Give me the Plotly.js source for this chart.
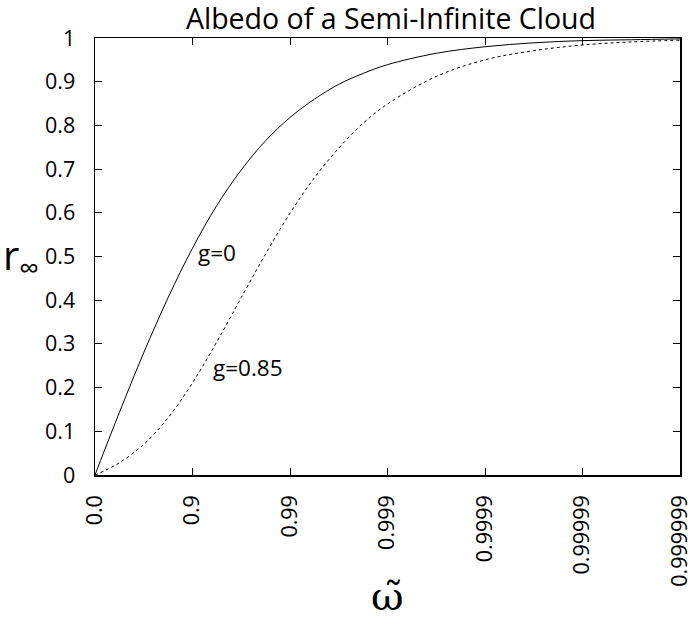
<!DOCTYPE html>
<html><head><meta charset="utf-8">
<script src="https://cdn.plot.ly/plotly-3.0.1.min.js"></script>
<style>html,body{margin:0;padding:0;background:#fff}</style>
</head><body><div id="chart" style="width:693px;height:621px"></div>
<script>
// x position = -log10(1 - omega)
const xPos   = [0, 0.1, 0.25, 0.5, 0.75, 1, 1.25, 1.5, 1.75, 2, 2.25, 2.5, 2.75, 3, 3.5, 4, 4.5, 5, 5.5, 6];
const rG0    = [0, 0.058, 0.143, 0.280, 0.406, 0.519, 0.617, 0.698, 0.765, 0.818, 0.860, 0.894, 0.919, 0.939, 0.965, 0.980, 0.989, 0.994, 0.996, 0.998];
const rG085  = [0, 0.010, 0.028, 0.070, 0.131, 0.211, 0.305, 0.406, 0.506, 0.599, 0.680, 0.748, 0.805, 0.849, 0.912, 0.950, 0.971, 0.984, 0.991, 0.995];
const tickPos    = [0, 1, 2, 3, 4, 5, 6];
const tickLabels = ["0.0", "0.9", "0.99", "0.999", "0.9999", "0.99999", "0.999999"];
const seriesNames = ["g=0", "g=0.85"];

const font = "Open Sans, Noto Sans, sans-serif";
const serif = "DejaVu Serif, Liberation Serif, serif";
const traces = [
  {x: xPos, y: rG0, mode: "lines", name: seriesNames[0],
   line: {color: "#000", width: 1, shape: "spline", smoothing: 1}},
  {x: xPos, y: rG085, mode: "lines", name: seriesNames[1],
   line: {color: "#000", width: 1, dash: "3px,3px", shape: "spline", smoothing: 1}}
];
const layout = {
  width: 693, height: 621,
  margin: {l: 95, r: 13, t: 38, b: 146},
  paper_bgcolor: "#fff", plot_bgcolor: "#fff",
  showlegend: false,
  font: {family: font, color: "#000", size: 21},
  title: {text: "Albedo of a Semi-Infinite Cloud", font: {family: font, size: 28.5, color: "#000"},
          x: 0.506, xref: "paper", xanchor: "center", y: 1, yref: "paper", yanchor: "bottom",
          pad: {b: 9, t: 0}},
  xaxis: {range: [0, 6], tickvals: tickPos, ticktext: tickLabels, tickangle: -90,
          ticks: "inside", ticklen: 7, tickwidth: 1, tickcolor: "#000",
          showline: true, linecolor: "#000", linewidth: 1.5, mirror: "ticks",
          showgrid: false, zeroline: false, ticklabelstandoff: 10,
          tickfont: {family: font, size: 21.5}},
  yaxis: {range: [0, 1], dtick: 0.1, tick0: 0,
          ticks: "inside", ticklen: 7, tickwidth: 1, tickcolor: "#000",
          showline: true, linecolor: "#000", linewidth: 1.5, mirror: "ticks",
          showgrid: false, zeroline: false, ticklabelstandoff: 14,
          tickfont: {family: font, size: 21.5}},
  annotations: [
    {text: seriesNames[0], x: 1.04, y: 0.51, xref: "x", yref: "y", xanchor: "left", yanchor: "middle",
     showarrow: false, font: {family: font, size: 22.5}},
    {text: seriesNames[1], x: 1.19, y: 0.245, xref: "x", yref: "y", xanchor: "left", yanchor: "middle",
     showarrow: false, font: {family: font, size: 22.5}},
    {text: "r<sub>∞</sub>", xref: "paper", yref: "paper", x: -0.16, y: 0.5, xanchor: "left", yanchor: "middle",
     showarrow: false, font: {family: font, size: 40}},
    {text: "ω\u0303", xref: "paper", yref: "paper", x: 0.5, y: -0.334, xanchor: "center", yanchor: "bottom",
     showarrow: false, font: {family: serif, size: 40}}
  ]
};
Plotly.newPlot("chart", traces, layout, {displayModeBar: false, staticPlot: true});
</script></body></html>
